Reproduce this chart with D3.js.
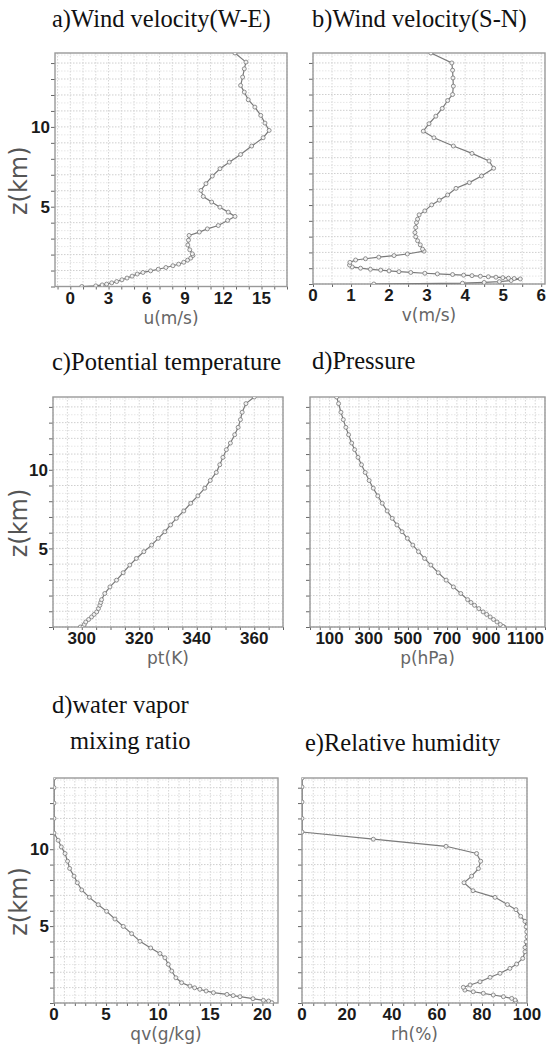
<!DOCTYPE html>
<html>
<head>
<meta charset="utf-8">
<script src="https://cdn.jsdelivr.net/npm/d3@7"></script>
<style>
    body { margin: 0; background: #fff; }
    svg { display: block; }
    .title { font-family: "Liberation Serif", "Times New Roman", serif; font-size: 24.5px; fill: #111; }
    .tick-label { font-family: "Liberation Sans", Arial, sans-serif; font-weight: bold; font-size: 17px; fill: #1a1a1a; }
    .axis-title { font-family: "DejaVu Sans", sans-serif; font-size: 17px; fill: #666; }
    .z-title { font-family: "DejaVu Sans", sans-serif; font-size: 24px; fill: #555; }
</style>
</head>
<body>
<div id="chart"></div>
<script>
//#region Data
// height axis shared by every panel (km)
const zDomain = [0, 14.63];
const zLabels = [5, 10];

// a) W-E wind
const uHeights = [0, 0.04, 0.1, 0.15, 0.23, 0.31, 0.42, 0.53, 0.65, 0.78,
    0.88, 0.98, 1.08, 1.19, 1.30, 1.40, 1.52, 1.65, 1.78, 1.94,
    2.05, 2.3, 2.6, 2.9, 3.2, 3.41, 3.61, 3.82, 4.14, 4.39,
    4.66, 4.97, 5.29, 5.64, 6.02, 6.44, 6.92, 7.38, 7.79, 8.27,
    8.80, 9.32, 9.78, 10.24, 10.72, 11.24, 11.70, 12.18, 12.60, 13.12,
    13.64, 14.06, 14.63];
const uValues = [0.9, 2.0, 2.5, 2.85, 3.25, 3.64, 4.05, 4.45, 4.85, 5.25,
    5.7, 6.3, 6.9, 7.5, 8.05, 8.5, 8.9, 9.2, 9.45, 9.62,
    9.57, 9.37, 9.22, 9.27, 9.32, 10.12, 10.75, 11.61, 12.34, 12.92,
    12.39, 11.74, 11.09, 10.43, 10.25, 10.64, 11.14, 11.74, 12.47, 13.36,
    14.23, 15.13, 15.60, 15.27, 14.94, 14.48, 13.96, 13.65, 13.36, 13.52,
    13.65, 13.78, 12.92];
const uTicks = [0, 3, 6, 9, 12, 15];

// b) S-N wind
const vHeights = [0, 0.05, 0.1, 0.15, 0.22, 0.32, 0.35, 0.37, 0.40, 0.43,
    0.46, 0.49, 0.53, 0.56, 0.60, 0.64, 0.68, 0.73, 0.78, 0.83,
    0.88, 0.93, 1.0, 1.08, 1.2, 1.37, 1.52, 1.6, 1.7, 1.8,
    1.9, 2.08, 2.21, 2.48, 2.74, 2.99, 3.26, 3.58, 3.89, 4.11,
    4.38, 4.63, 5.01, 5.31, 5.64, 6.06, 6.42, 6.84, 7.33, 7.79,
    8.27, 8.74, 9.26, 9.68, 10.15, 10.63, 11.12, 11.62, 12.0, 12.53,
    13.05, 13.54, 14.0, 14.63];
const vValues = [1.6, 3.93, 4.5, 4.9, 5.21, 5.45, 5.29, 5.14, 4.99, 4.81,
    4.61, 4.40, 4.18, 3.96, 3.67, 3.27, 2.94, 2.57, 2.26, 2.0,
    1.78, 1.51, 1.25, 1.03, 0.96, 0.97, 1.12, 1.38, 1.73, 2.13,
    2.48, 2.92, 2.88, 2.82, 2.75, 2.70, 2.68, 2.70, 2.72, 2.75,
    2.79, 2.94, 3.12, 3.32, 3.54, 3.76, 4.11, 4.43, 4.75, 4.63,
    4.18, 3.69, 3.18, 2.90, 3.05, 3.23, 3.40, 3.54, 3.67, 3.69,
    3.68, 3.67, 3.65, 3.10];
const vTicks = [0, 1, 2, 3, 4, 5, 6];

// c) potential temperature and d) pressure (same levels)
const thermoHeights = [0, 0.04, 0.16, 0.32, 0.48, 0.64, 0.8, 0.96, 1.17, 1.38,
    1.56, 1.74, 2.13, 2.55, 2.98, 3.45, 3.94, 4.36, 4.79, 5.21,
    5.64, 6.06, 6.49, 6.91, 7.38, 7.87, 8.34, 8.83, 9.32, 9.83,
    10.32, 10.79, 11.28, 11.70, 12.23, 12.70, 13.19, 13.66, 14.21, 14.63];
const ptValues = [299.5, 300.5, 300.9, 301.4, 302.4, 303.4, 304.3, 305.2, 305.8, 306.3,
    306.6, 306.9, 308.0, 309.8, 312.1, 314.4, 316.7, 319.0, 321.6, 324.3,
    326.6, 328.9, 330.9, 332.9, 335.5, 337.9, 340.4, 342.8, 344.7, 346.8,
    348.0, 349.1, 350.3, 351.7, 353.2, 354.4, 355.2, 355.8, 357.1, 360.0];
const ptTicks = [300, 320, 340, 360];
const pValues = [990, 985, 972, 955, 937, 920, 902, 884, 862, 840,
    822, 805, 770, 732, 695, 655, 617, 585, 554, 525,
    497, 470, 444, 420, 394, 369, 346, 323, 302, 282,
    263, 245, 228, 213, 197, 183, 170, 158, 146, 136];
const pTicks = [100, 300, 500, 700, 900, 1100];

// water vapor mixing ratio
const qvHeights = [0.02, 0.13, 0.17, 0.28, 0.41, 0.48, 0.56, 0.67, 0.78, 0.89,
    0.99, 1.1, 1.32, 1.64, 2.08, 2.51, 2.94, 3.22, 3.58, 4.01,
    4.51, 4.98, 5.46, 5.96, 6.39, 6.87, 7.35, 7.82, 8.25, 8.75,
    9.22, 9.72, 10.15, 10.58, 11.05, 12.0, 13.0, 14.0, 14.63];
const qvValues = [20.9, 20.6, 20.1, 19.1, 17.85, 17.2, 16.6, 15.3, 14.6, 14.0,
    13.5, 13.05, 12.25, 11.7, 11.3, 10.97, 10.65, 10.17, 9.28, 8.25,
    7.45, 6.65, 5.85, 5.05, 4.25, 3.39, 2.66, 2.24, 1.92, 1.5,
    1.3, 1.06, 0.7, 0.4, 0, 0, 0, 0, 0];
const qvTicks = [0, 5, 10, 15, 20];

// e) relative humidity
const rhHeights = [0.03, 0.1, 0.19, 0.3, 0.41, 0.52, 0.63, 0.73, 0.84, 1.02,
    1.17, 1.38, 1.67, 1.93, 2.25, 2.53, 2.9, 3.33, 3.61, 3.98,
    4.3, 4.63, 4.95, 5.31, 5.64, 6.07, 6.4, 6.87, 7.3, 7.82,
    8.25, 8.74, 9.22, 9.72, 10.19, 10.65, 11.12, 12.0, 13.07, 14.05,
    14.63];
const rhValues = [94.7, 95, 94.7, 93.2, 89.5, 85, 80.6, 76.1, 72.4, 71.7,
    74.7, 79.1, 83.6, 88, 92.4, 95.4, 98.1, 99.1, 99.1, 99.6,
    100, 99.9, 99.6, 99.1, 97.2, 95.1, 91.3, 85.8, 76, 72,
    75.4, 78.4, 79.4, 77.6, 64, 31.7, 0, 0, 0, 0,
    0];
const rhTicks = [0, 20, 40, 60, 80, 100];
//#endregion

//#region Layout
const panels = [
    { title: ["a)Wind velocity(W-E)"], titleX: [52], titleY: [27], xLabel: "u(m/s)",
      box: { left: 55, right: 287, top: 53, bottom: 286.5 }, xDomain: [-1.2, 17], xStep: 1,
      ticks: uTicks, heights: uHeights, values: uValues, zTitle: true },
    { title: ["b)Wind velocity(S-N)"], titleX: [312], titleY: [27], xLabel: "v(m/s)",
      box: { left: 313, right: 545, top: 53, bottom: 284 }, xDomain: [0, 6.1], xStep: 0.5,
      ticks: vTicks, heights: vHeights, values: vValues, zTitle: false },
    { title: ["c)Potential temperature"], titleX: [52], titleY: [370], xLabel: "pt(K)",
      box: { left: 53, right: 283, top: 397, bottom: 627 }, xDomain: [290, 370], xStep: 5,
      ticks: ptTicks, heights: thermoHeights, values: ptValues, zTitle: true },
    { title: ["d)Pressure"], titleX: [312], titleY: [369], xLabel: "p(hPa)",
      box: { left: 310, right: 545, top: 397, bottom: 627 }, xDomain: [0, 1200], xStep: 50,
      ticks: pTicks, heights: thermoHeights, values: pValues, zTitle: false },
    { title: ["d)water vapor", "mixing ratio"], titleX: [52, 70], titleY: [713, 749], xLabel: "qv(g/kg)",
      box: { left: 54, right: 278, top: 778, bottom: 1003 }, xDomain: [0, 21.5], xStep: 1,
      ticks: qvTicks, heights: qvHeights, values: qvValues, zTitle: true },
    { title: ["e)Relative humidity"], titleX: [305], titleY: [751], xLabel: "rh(%)",
      box: { left: 302, right: 527, top: 778, bottom: 1003 }, xDomain: [0, 100], xStep: 5,
      ticks: rhTicks, heights: rhHeights, values: rhValues, zTitle: false }
];
//#endregion

document.addEventListener("DOMContentLoaded", function () {
    const svg = d3.select("#chart")
        .append("svg")
        .attr("width", 546)
        .attr("height", 1046);

    svg.append("rect")
        .attr("width", 546)
        .attr("height", 1046)
        .attr("fill", "#fff");

    panels.forEach((p, i) => createPanel(svg, p, i));
});

function stepRange(domain, step) {
    const start = Math.ceil(domain[0] / step - 1e-9);
    const end = Math.floor(domain[1] / step + 1e-9);
    return d3.range(start, end + 1).map(k => +(k * step).toFixed(6));
}

function createPanel(svg, p, idx) {
    const b = p.box;
    const x = d3.scaleLinear().domain(p.xDomain).range([b.left, b.right]);
    const y = d3.scaleLinear().domain(zDomain).range([b.bottom, b.top]);
    const g = svg.append("g");

    // Title (one or two lines)
    p.title.forEach((t, k) => {
        g.append("text")
            .attr("class", "title")
            .attr("x", p.titleX[k])
            .attr("y", p.titleY[k])
            .text(t);
    });

    // Grid: vertical every xStep, horizontal every 0.5 km
    const xGrid = stepRange(p.xDomain, p.xStep);
    const zHalf = stepRange(zDomain, 0.5);

    g.append("g")
        .selectAll("line")
        .data(zHalf)
        .enter()
        .append("line")
        .attr("x1", b.left).attr("x2", b.right)
        .attr("y1", d => y(d)).attr("y2", d => y(d))
        .attr("stroke", d => Number.isInteger(d) ? "#cfcfcf" : "#e6e6e6")
        .attr("stroke-dasharray", "1.5,1.5")
        .attr("stroke-width", 1);

    g.append("g")
        .selectAll("line")
        .data(xGrid)
        .enter()
        .append("line")
        .attr("x1", d => x(d)).attr("x2", d => x(d))
        .attr("y1", b.top).attr("y2", b.bottom)
        .attr("stroke", "#d6d6d6")
        .attr("stroke-dasharray", "1.5,1.5")
        .attr("stroke-width", 1);

    // Axes: small tick marks only, labels are drawn below
    g.append("g")
        .attr("transform", `translate(0,${b.bottom})`)
        .call(d3.axisBottom(x).tickValues(xGrid).tickSize(3).tickFormat(""))
        .call(a => a.select(".domain").remove())
        .call(a => a.selectAll("line").attr("stroke", "#666"));

    g.append("g")
        .attr("transform", `translate(${b.left},0)`)
        .call(d3.axisLeft(y).tickValues(d3.range(0, 15)).tickSize(4).tickFormat(""))
        .call(a => a.select(".domain").remove())
        .call(a => a.selectAll("line").attr("stroke", "#666"));

    // Frame
    g.append("rect")
        .attr("x", b.left).attr("y", b.top)
        .attr("width", b.right - b.left).attr("height", b.bottom - b.top)
        .attr("fill", "none")
        .attr("stroke", "#999")
        .attr("stroke-width", 1.4);

    // Tick labels
    g.append("g")
        .selectAll("text")
        .data(p.ticks)
        .enter()
        .append("text")
        .attr("class", "tick-label")
        .attr("x", d => x(d))
        .attr("y", b.bottom + 17)
        .attr("text-anchor", "middle")
        .text(d => d);

    if (p.zTitle) {
        g.append("g")
            .selectAll("text")
            .data(zLabels)
            .enter()
            .append("text")
            .attr("class", "tick-label")
            .attr("x", b.left - 5)
            .attr("y", d => y(d))
            .attr("dy", "0.36em")
            .attr("text-anchor", "end")
            .text(d => d);

        g.append("text")
            .attr("class", "z-title")
            .attr("transform", `translate(27, ${(b.top + b.bottom) / 2 + 11}) rotate(-90)`)
            .attr("text-anchor", "middle")
            .text("z(km)");
    }

    // x-axis title
    g.append("text")
        .attr("class", "axis-title")
        .attr("x", (b.left + b.right) / 2)
        .attr("y", b.bottom + 37)
        .attr("text-anchor", "middle")
        .text(p.xLabel);

    // Profile line + markers, clipped to the frame
    const clipId = "clip" + idx;
    svg.append("clipPath")
        .attr("id", clipId)
        .append("rect")
        .attr("x", b.left).attr("y", b.top)
        .attr("width", b.right - b.left).attr("height", b.bottom - b.top);

    const pts = p.heights.map((h, k) => ({ z: h, v: p.values[k] }));

    const line = d3.line()
        .x(d => x(d.v))
        .y(d => y(d.z));

    const plot = g.append("g").attr("clip-path", `url(#${clipId})`);

    plot.append("path")
        .datum(pts)
        .attr("d", line)
        .attr("fill", "none")
        .attr("stroke", "#7a7a7a")
        .attr("stroke-width", 1.2);

    plot.selectAll("circle")
        .data(pts)
        .enter()
        .append("circle")
        .attr("cx", d => x(d.v))
        .attr("cy", d => y(d.z))
        .attr("r", 2)
        .attr("fill", "#f2f2f2")
        .attr("stroke", "#777")
        .attr("stroke-width", 0.8);
}
</script>
</body>
</html>
